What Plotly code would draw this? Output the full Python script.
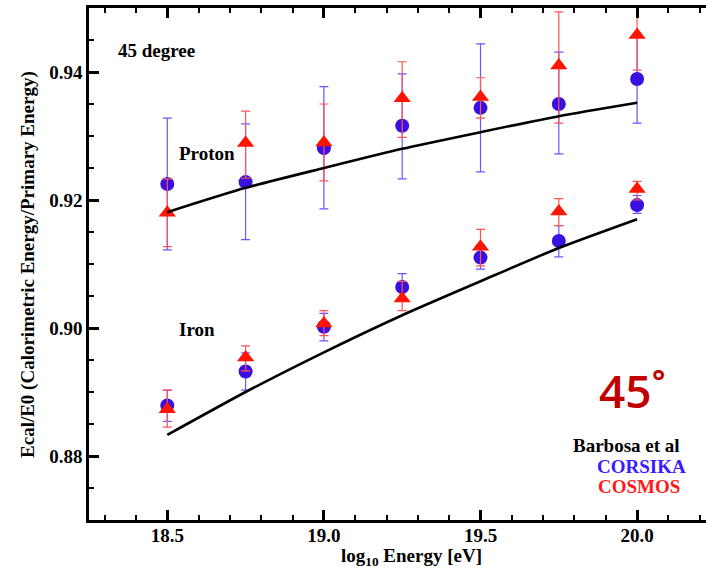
import plotly.graph_objects as go

# ---------------- data ----------------
energy = [18.5, 18.75, 19.0, 19.25, 19.5, 19.75, 20.0]

# Proton
p_corsika = [0.9225, 0.9228, 0.9281, 0.9316, 0.9344, 0.9350, 0.9389]
p_corsika_up = [0.0103, 0.0091, 0.0096, 0.0081, 0.0100, 0.0081, 0.0070]
p_corsika_dn = [0.0103, 0.0090, 0.0095, 0.0083, 0.0100, 0.0078, 0.0069]
p_cosmos = [0.9180, 0.9289, 0.9290, 0.9359, 0.9361, 0.9410, 0.9458]
p_cosmos_up = [0.0053, 0.0050, 0.0060, 0.0057, 0.0030, 0.0084, 0.0060]
p_cosmos_dn = [0.0053, 0.0055, 0.0060, 0.0061, 0.0033, 0.0090, 0.0055]
p_curve = [0.9181, 0.9219, 0.9250, 0.9280, 0.9306, 0.9331, 0.9352]

# Iron
fe_corsika = [0.8879, 0.8932, 0.9002, 0.9064, 0.9110, 0.9136, 0.9192]
fe_corsika_up = [0.0024, 0.0029, 0.0021, 0.0021, 0.0020, 0.0024, 0.0015]
fe_corsika_dn = [0.0025, 0.0029, 0.0022, 0.0021, 0.0018, 0.0025, 0.0013]
fe_cosmos = [0.8873, 0.8954, 0.9007, 0.9046, 0.9127, 0.9182, 0.9217]
fe_cosmos_up = [0.0030, 0.0018, 0.0020, 0.0027, 0.0027, 0.0020, 0.0012]
fe_cosmos_dn = [0.0028, 0.0021, 0.0019, 0.0019, 0.0030, 0.0022, 0.0017]
fe_curve = [0.8833, 0.8900, 0.8962, 0.9020, 0.9073, 0.9125, 0.9170]

x_ticks = [18.5, 19.0, 19.5, 20.0]
y_ticks = [0.88, 0.90, 0.92, 0.94]

# ---------------- style ----------------
SERIF = "Times New Roman, Liberation Serif, serif"
BLUE = "#3a10e0"
BLUE_ERR = "#6a55ff"
RED = "#ff1400"
RED_ERR = "#ff5555"

fig = go.Figure()


def points(y, up, dn, color, ecolor, symbol, size):
    fig.add_trace(go.Scatter(
        x=energy, y=y, mode="markers",
        marker=dict(symbol=symbol, size=size, color=color, line=dict(width=0)),
        error_y=dict(type="data", symmetric=False, array=up, arrayminus=dn,
                     color=ecolor, thickness=1.2, width=4.5),
        showlegend=False, cliponaxis=True))


points(p_corsika, p_corsika_up, p_corsika_dn, BLUE, BLUE_ERR, "circle", 14)
points(fe_corsika, fe_corsika_up, fe_corsika_dn, BLUE, BLUE_ERR, "circle", 14)
points(p_cosmos, p_cosmos_up, p_cosmos_dn, RED, RED_ERR, "triangle-up", 15)
points(fe_cosmos, fe_cosmos_up, fe_cosmos_dn, RED, RED_ERR, "triangle-up", 15)

for curve in (p_curve, fe_curve):
    fig.add_trace(go.Scatter(x=energy, y=curve, mode="lines",
                             line=dict(color="black", width=2.6, shape="spline", smoothing=0.6),
                             showlegend=False))

tickfont = dict(family=SERIF, size=19, color="black", weight="bold")

fig.update_xaxes(
    range=[18.25, 20.22], tickvals=x_ticks, ticktext=[f"{v:.1f}" for v in x_ticks],
    ticks="inside", ticklen=10, tickwidth=2.5, tickcolor="black", ticklabelstandoff=-4,
    minor=dict(ticks="inside", dtick=0.1, tick0=18.5, ticklen=5, tickwidth=2.2, tickcolor="black"),
    showline=True, linecolor="black", linewidth=2.6, mirror="ticks",
    showgrid=False, zeroline=False, tickfont=tickfont)

fig.update_yaxes(
    range=[0.87, 0.95], tickvals=y_ticks, ticktext=[f"{v:.2f}" for v in y_ticks],
    ticks="inside", ticklen=10, tickwidth=2.5, tickcolor="black",
    minor=dict(ticks="inside", dtick=0.005, tick0=0.87, ticklen=5, tickwidth=2.2, tickcolor="black"),
    showline=True, linecolor="black", linewidth=2.6, mirror=False,
    showgrid=False, zeroline=False, tickfont=tickfont)

txt = dict(family=SERIF, size=19, color="black", weight="bold")
ann = []


def label(text, x, y, font, xanchor="left"):
    ann.append(dict(text=text, x=x, y=y, xref="x", yref="y", showarrow=False,
                    xanchor=xanchor, yanchor="middle", font=font))


label("45 degree", 18.337, 0.9434, txt)
label("Proton", 18.532, 0.9273, txt)
label("Iron", 18.532, 0.8997, txt)
label("45˚", 19.872, 0.8903, dict(family="Open Sans", size=46, color="#c00000", weight=600))
label("Barbosa et al", 19.790, 0.8817, txt)
label("CORSIKA", 19.866, 0.8783, dict(family=SERIF, size=19, color="#3a1aff", weight="bold"))
label("COSMOS", 19.869, 0.8752, dict(family=SERIF, size=19, color="#ff1a1a", weight="bold"))

ann.append(dict(text="log<sub>10</sub> Energy [eV]", x=19.279, xref="x", y=-0.0723, yref="paper",
                showarrow=False, xanchor="center", yanchor="middle", font=txt))
ann.append(dict(text="Ecal/E0 (Calorimetric Energy/Primary Energy)", x=-0.0989, xref="paper",
                y=0.5, yref="paper", textangle=-90, showarrow=False,
                xanchor="center", yanchor="middle", font=txt))

fig.update_layout(
    width=706, height=574,
    margin=dict(l=89, r=0, t=8, b=54),
    paper_bgcolor="white", plot_bgcolor="white",
    annotations=ann, showlegend=False)

fig.write_html("out.html")
